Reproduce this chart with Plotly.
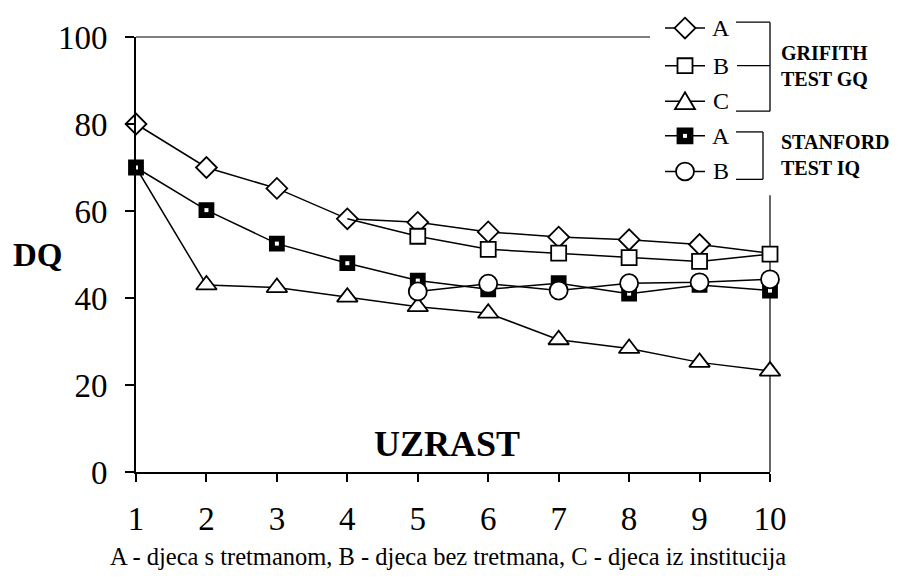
import plotly.graph_objects as go

# ---------------- data ----------------
uzrast = [1, 2, 3, 4, 5, 6, 7, 8, 9, 10]
grifith_A = [80, 70, 65.2, 58.2, 57.4, 55.2, 54.0, 53.4, 52.3, 50.3]
grifith_B = [None, None, None, 58.2, 54.2, 51.2, 50.3, 49.3, 48.4, 50.1]
grifith_C = [70, 43.0, 42.4, 40.2, 38.0, 36.5, 30.4, 28.4, 25.2, 23.2]
stanford_A = [70, 60.2, 52.5, 48.0, 44.0, 42.0, 43.4, 41.0, 43.0, 41.7]
stanford_B = [None, None, None, None, 41.5, 43.3, 41.7, 43.4, 43.6, 44.3]
y_ticks = [0, 20, 40, 60, 80, 100]
legend_letters = ["A", "B", "C", "A", "B"]

FONT = "Liberation Serif"
OFF = 8                      # page body margin of the html page
W, H = 899 - OFF, 580 - OFF
X0, X1, Y0, Y1 = 136, 770, 472, 32   # plot area in window pixels
L, R = X0 - OFF, OFF + W - X1
T, B = Y1 - OFF, OFF + H - Y0
PW, PH = X1 - X0, Y0 - Y1


def px(x):
    return (x - X0) / PW


def py(y):
    return (Y0 - y) / PH


LW = 1.5
MLW = 1.8
fig = go.Figure()


def sizes(vals, s, hidden=()):
    return [0 if (i in hidden) else s for i in range(len(vals))]


def add_series(vals, symbol, size, fill, hidden=()):
    fig.add_trace(go.Scatter(
        x=uzrast, y=vals, mode="lines+markers", cliponaxis=False,
        line=dict(color="black", width=LW),
        marker=dict(symbol=symbol, size=sizes(vals, size, hidden), color=fill,
                    opacity=1, line=dict(color="black", width=MLW)),
        showlegend=False, hoverinfo="x+y"))


add_series(grifith_A, "diamond", 16, "white", hidden=(9,))
add_series(grifith_B, "square", 15, "white", hidden=(3,))
add_series(grifith_C, "triangle-up", 18, "white", hidden=(0,))
add_series(stanford_A, "square", 14, "black")
# white dot in the centre of the black squares
fig.add_trace(go.Scatter(x=uzrast, y=stanford_A, mode="markers", cliponaxis=False,
                         marker=dict(symbol="square", size=4, color="white", opacity=1),
                         showlegend=False, hoverinfo="skip"))
add_series(stanford_B, "circle", 18, "white")

# ---------------- custom legend ----------------
shapes = []
BL = dict(color="black", width=1.8)


def hline(x0, x1, y, w=1.3, layer="above"):
    shapes.append(dict(type="line", xref="paper", yref="paper", x0=px(x0), x1=px(x1),
                       y0=py(y), y1=py(y), line=dict(color="black", width=w), layer=layer))


def vline(x, y0, y1, w=1.3, layer="above"):
    shapes.append(dict(type="line", xref="paper", yref="paper", x0=px(x), x1=px(x),
                       y0=py(y0), y1=py(y1), line=dict(color="black", width=w), layer=layer))


def path(points, fill):
    d = "M " + " L ".join(f"{px(a):.5f},{py(b):.5f}" for a, b in points) + " Z"
    shapes.append(dict(type="path", xref="paper", yref="paper", path=d,
                       fillcolor=fill, line=BL, layer="above"))


def rect(cx, cy, h, fill, line=True):
    shapes.append(dict(type="rect", xref="paper", yref="paper",
                       x0=px(cx - h), x1=px(cx + h), y0=py(cy + h), y1=py(cy - h),
                       fillcolor=fill, line=BL if line else dict(width=0), layer="above"))


def circ(cx, cy, r, fill):
    shapes.append(dict(type="circle", xref="paper", yref="paper",
                       x0=px(cx - r), x1=px(cx + r), y0=py(cy + r), y1=py(cy - r),
                       fillcolor=fill, line=BL, layer="above"))


# frame (top + right), interrupted by the legend
hline(X0, 650, Y1, 1.2, "below")
vline(X1, 192, Y0, 1.2, "below")

row_y = [23, 61, 97, 132, 168]
MX = 685
for yy in row_y:
    hline(665, 705, yy, LW)
path([(MX - 10.5, 23), (MX, 12.5), (MX + 10.5, 23), (MX, 33.5)], "white")
rect(MX, 61, 7.5, "white")
path([(MX - 10, 105), (MX, 88), (MX + 10, 105)], "white")
rect(MX, 132, 7.5, "black")
rect(MX, 132, 2, "white", line=False)
circ(MX, 168, 9, "white")

# Grifith bracket
hline(736, 770, 17)
hline(737, 770, 61)
hline(736, 770, 107)
vline(770, 17, 107)
# Stanford bracket
hline(736, 763, 128)
hline(736, 763, 176)
vline(763, 128, 176)

annotations = []
for yy, letter in zip(row_y, legend_letters):
    annotations.append(dict(x=px(721), y=py(yy), xref="paper", yref="paper",
                            text=letter, showarrow=False, xanchor="center", yanchor="middle",
                            font=dict(family=FONT, size=24, color="black")))
annotations.append(dict(x=px(779), y=py(61), xref="paper", yref="paper",
                        text="<b>GRIFITH<br>TEST GQ</b>", showarrow=False, align="left",
                        xanchor="left", yanchor="middle",
                        font=dict(family=FONT, size=20, color="black")))
annotations.append(dict(x=px(779), y=py(151), xref="paper", yref="paper",
                        text="<b>STANFORD<br>TEST IQ</b>", showarrow=False, align="left",
                        xanchor="left", yanchor="middle",
                        font=dict(family=FONT, size=20, color="black")))
annotations.append(dict(x=px(38), y=py(252), xref="paper", yref="paper",
                        text="<b>DQ</b>", showarrow=False, xanchor="center", yanchor="middle",
                        font=dict(family=FONT, size=33, color="black")))
annotations.append(dict(x=px(447), y=py(444), xref="paper", yref="paper",
                        text="<b>UZRAST</b>", showarrow=False, xanchor="center", yanchor="middle",
                        font=dict(family=FONT, size=36, color="black")))
annotations.append(dict(x=px(448), y=py(557), xref="paper", yref="paper",
                        text="A - djeca s tretmanom, B - djeca bez tretmana, C - djeca iz institucija",
                        showarrow=False, xanchor="center", yanchor="middle",
                        font=dict(family=FONT, size=24.5, color="black")))

fig.update_layout(
    width=W, height=H,
    margin=dict(l=L, r=R, t=T, b=B, pad=0),
    paper_bgcolor="white", plot_bgcolor="rgba(0,0,0,0)",
    showlegend=False,
    annotations=annotations, shapes=shapes,
    xaxis=dict(range=[1, 10], tickvals=uzrast, ticktext=[str(v) for v in uzrast],
               showgrid=False, zeroline=False, showline=True, linecolor="black", linewidth=2,
               ticks="outside", ticklen=8, tickwidth=1.5, tickcolor="black",
               ticklabelstandoff=8,
               tickfont=dict(family=FONT, size=33, color="black")),
    yaxis=dict(range=[0, 100], tickvals=y_ticks, showgrid=False, zeroline=False,
               showline=True, linecolor="black", linewidth=2,
               ticks="outside", ticklen=9, tickwidth=1.5, tickcolor="black",
               ticklabelstandoff=11,
               tickfont=dict(family=FONT, size=33, color="black")),
)

fig.write_html("out.html")
